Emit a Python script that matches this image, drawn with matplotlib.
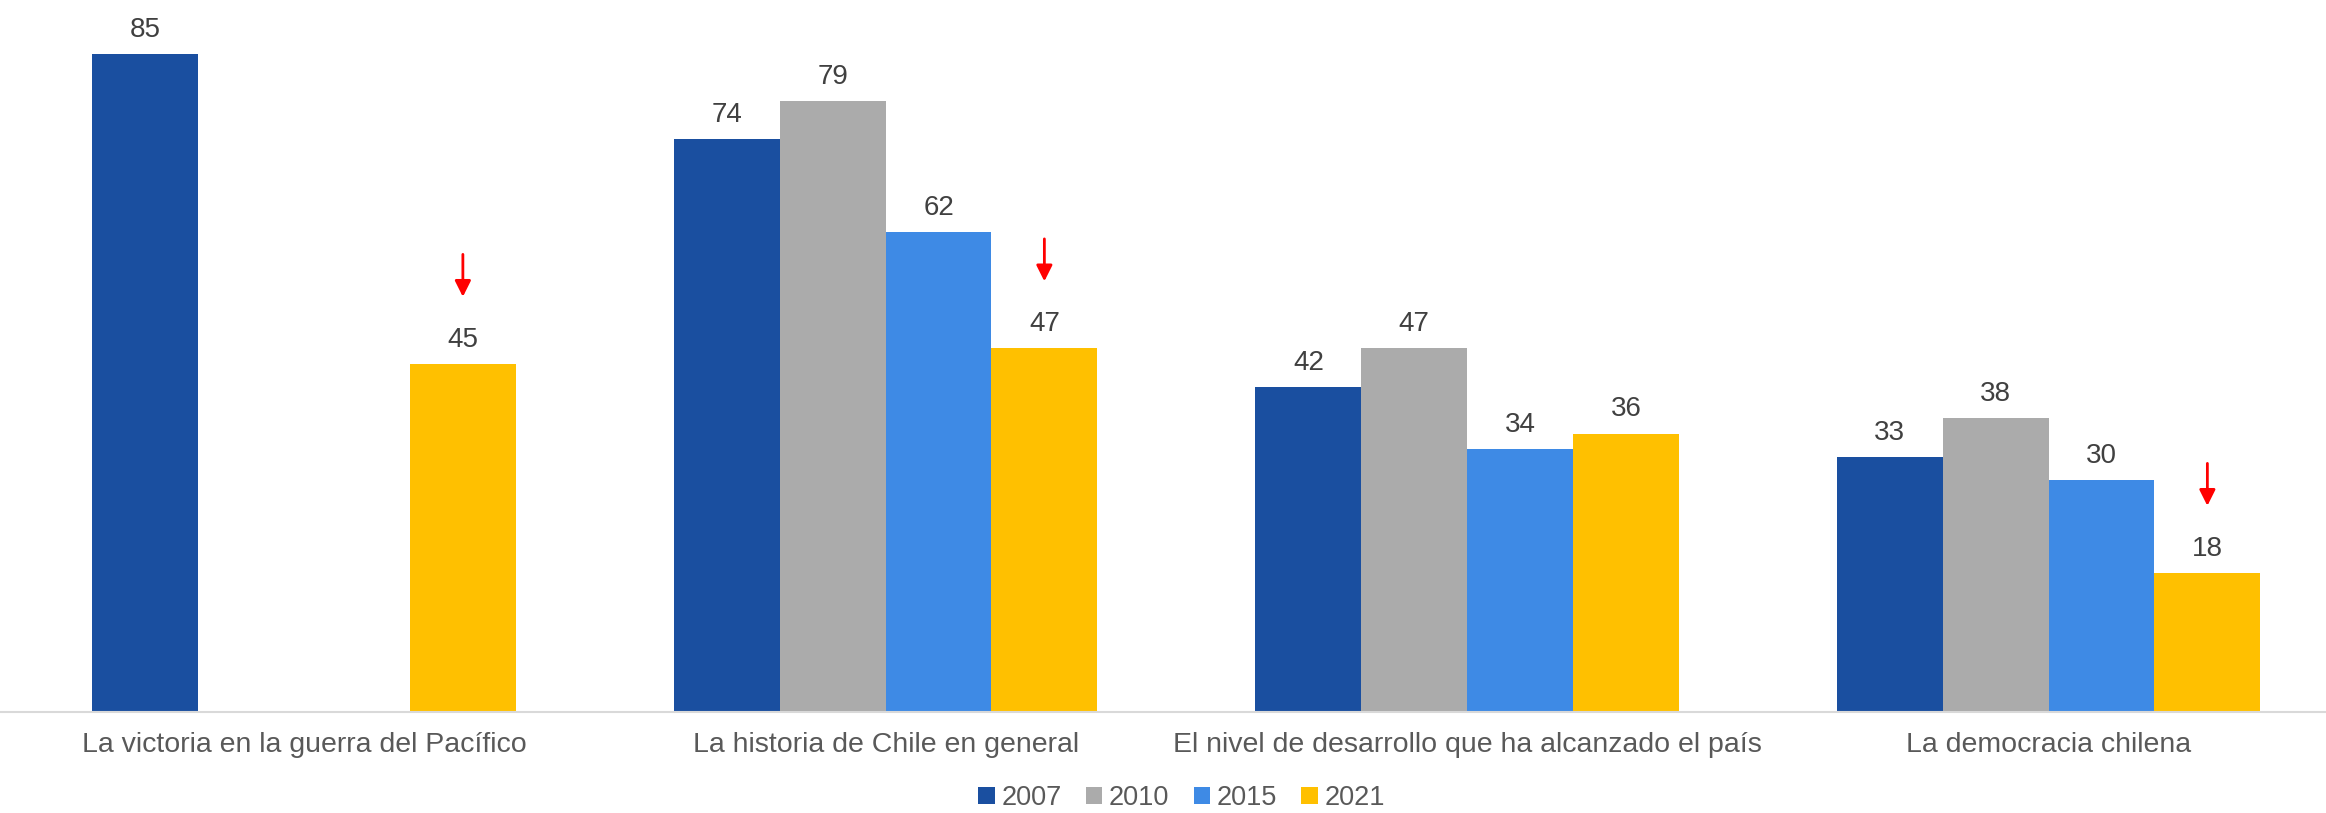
import matplotlib.pyplot as plt
import numpy as np

plt.rcParams['font.family'] = ['Liberation Sans', 'DejaVu Sans']

# datos
categorias = ['La victoria en la guerra del Pacífico',
              'La historia de Chile en general',
              'El nivel de desarrollo que ha alcanzado el país',
              'La democracia chilena']
anios = ['2007', '2010', '2015', '2021']
v2007 = [85, 74, 42, 33]
v2010 = [np.nan, 79, 47, 38]
v2015 = [np.nan, 62, 34, 30]
v2021 = [45, 47, 36, 18]
bajas = [True, True, False, True]  # flecha roja sobre 2021

series = [v2007, v2010, v2015, v2021]
colores = ['#1A4FA0', '#ABABAB', '#3E8AE5', '#FFC000']

fig = plt.figure(figsize=(23.26, 8.13), dpi=100)
ax = fig.add_axes([0, 0.124, 1, 0.876])

x = np.arange(len(categorias))
w = 0.182
for i, (vals, col, lab) in enumerate(zip(series, colores, anios)):
    pos = x + (i - 1.5) * w
    ax.bar(pos, vals, w, color=col, label=lab)
    for p, v in zip(pos, vals):
        if not np.isnan(v):
            ax.annotate(str(v), (p, v), xytext=(0, 8), textcoords='offset points',
                        ha='center', va='bottom', fontsize=20, color='#404040')

# flechas rojas
for xi, v, b in zip(x, v2021, bajas):
    if b:
        px = xi + 1.5 * w
        ax.annotate('', xy=(px, v + 8.3), xytext=(px, v + 14.5),
                    arrowprops=dict(arrowstyle='-|>', color='red', lw=2,
                                    mutation_scale=24))

ax.set_xlim(-0.523, 3.477)
ax.set_ylim(0, 92)
ax.set_xticks(x)
ax.set_xticklabels(categorias, fontsize=20.5, color='#595959')
ax.tick_params(axis='x', length=0, pad=14)
ax.set_yticks([])
for s in ['top', 'right', 'left']:
    ax.spines[s].set_visible(False)
ax.spines['bottom'].set_color('#D9D9D9')
ax.spines['bottom'].set_linewidth(1.5)

fig.legend(loc='center', bbox_to_anchor=(0.508, 0.018), ncol=4, frameon=False,
           fontsize=19.5, labelcolor='#595959', handlelength=0.6, handleheight=0.6,
           handletextpad=0.25, columnspacing=0.9)

fig.savefig('out.png', dpi=100)
